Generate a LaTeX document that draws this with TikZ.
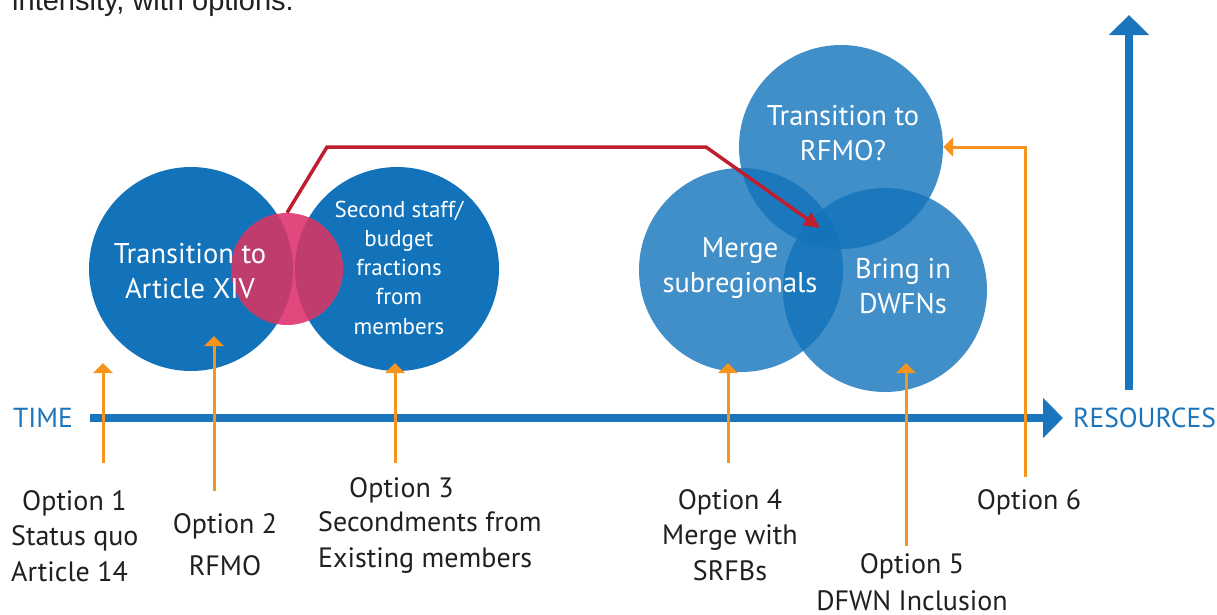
\documentclass[tikz,border=0pt]{standalone}
\usepackage{fontspec}
\setmainfont{PT Sans}
\newfontfamily\arialf{Liberation Sans}
\usetikzlibrary{arrows.meta}
\definecolor{dblue}{HTML}{1273BB}
\definecolor{axblue}{HTML}{1B75BC}
\definecolor{pinkL}{HTML}{E2487D}
\definecolor{pinkD}{HTML}{BF3D6C}
\definecolor{orng}{HTML}{F7941D}
\definecolor{redc}{HTML}{BE1E2D}
\definecolor{ink}{HTML}{231F20}
\begin{document}
\begin{tikzpicture}[x=1pt,y=-1pt,
  bigc/.style={circle,inner sep=0pt,minimum size=204pt},
  leftc/.style={bigc,fill=dblue},
  rightc/.style={bigc,fill=dblue,fill opacity=0.8},
  ctext/.style={anchor=base,text=white,align=center,inner sep=0pt,font=\fontsize{28.5}{35}\selectfont},
  stext/.style={anchor=base,text=white,align=center,inner sep=0pt,font=\fontsize{23}{29.2}\selectfont},
  otext/.style={anchor=base,text=ink,align=center,inner sep=0pt,font=\fontsize{28}{35.5}\selectfont},
  axtext/.style={anchor=base west,text=axblue,inner sep=0pt,font=\fontsize{27.5}{34}\selectfont},
  axis/.style={axblue,line width=8pt,-{Triangle[length=20pt,width=39pt]}},
  optarrow/.style={orng,line width=3pt,-{Triangle[length=10pt,width=19pt]}},
  redarrow/.style={redc,line width=3.5pt,-{Triangle[length=16pt,width=15pt]}}]
\useasboundingbox (0,0) rectangle (1217,614);
\clip (0,0) rectangle (1217,614);
\fill[white] (0,0) rectangle (1217,614);
% top clipped caption
\node[anchor=base west,inner sep=0pt,text=ink,font=\arialf\fontsize{29}{34}\selectfont] (cap) at (12,10) {intensity, with options.};
% left circles
\node[leftc] (A) at (191,269) {};
\node[leftc] (B) at (397,269) {};
\node[circle,inner sep=0pt,minimum size=112pt,fill=pinkL] (P) at (287,269) {};
\begin{scope}
  \clip (287,269) circle (56pt);
  \fill[pinkD] (191,269) circle (102pt);
  \fill[pinkD] (397,269) circle (102pt);
\end{scope}
% right circles
\node[rightc] (R) at (841,147) {};
\node[rightc] (M) at (741,270) {};
\node[rightc] (D) at (885,290) {};
% axes
\coordinate (t0) at (90,418);
\coordinate (t1) at (1063,418);
\coordinate (r0) at (1129,390);
\coordinate (r1) at (1129,15);
\draw[axis] (t0) -- (t1);
\draw[axis] (r0) -- (r1);
\node[axtext] (time) at (13,427) {TIME};
\node[axtext] (res) at (1073,427) {RESOURCES};
% red connector
\coordinate (rk1) at (327,147);
\coordinate (rk2) at (706,147);
\coordinate (rtip) at (820,228);
\draw[redarrow,line join=miter] (P.north) -- (rk1) -- (rk2) -- (rtip);
% orange option arrows
\coordinate (o1b) at (103,463); \coordinate (o1t) at (103,363);
\coordinate (o2b) at (214,491); \coordinate (o2t) at (214,336);
\coordinate (o3b) at (395,463); \coordinate (o3t) at (395,363);
\coordinate (o4b) at (728,463); \coordinate (o4t) at (728,363);
\coordinate (o5b) at (906,546); \coordinate (o5t) at (906,363);
\coordinate (o6b) at (1025,477); \coordinate (o6k) at (1025,147);
\draw[optarrow] (o1b) -- (o1t);
\draw[optarrow] (o2b) -- (o2t);
\draw[optarrow] (o3b) -- (o3t);
\draw[optarrow] (o4b) -- (o4t);
\draw[optarrow] (o5b) -- (o5t);
\draw[optarrow] (o6b) -- (o6k) -- (R.east);
% circle texts (anchor = baseline of last line)
\node[ctext] (Atx) at (190,298) {Transition to\\Article XIV};
\node[stext] (Btx) at (399,334) {Second staff/\\budget\\fractions\\from\\members};
\node[ctext] (Rtx) at (843,160) {Transition to\\RFMO?};
\node[ctext] (Mtx) at (740,292) {Merge\\subregionals};
\node[ctext] (Dtx) at (903,313) {Bring in\\DWFNs};
% option labels
\node[otext,align=left,anchor=base west] (op1) at (11,581) {\hspace*{11pt}Option 1\\Status quo\\Article 14};
\node[otext] (op2) at (225,575) {Option 2\\[6pt]RFMO};
\node[otext,align=left,anchor=base west] (op3) at (318,567) {\hspace*{31pt}Option 3\\[-1pt]Secondments from\\Existing members};
\node[otext] (op4) at (730,580) {Option 4\\Merge with\\SRFBs};
\node[otext] (op5) at (912,610) {Option 5\\[1.5pt]DFWN Inclusion};
\node[otext] (op6) at (1029,509) {Option 6};
\end{tikzpicture}
\end{document}
